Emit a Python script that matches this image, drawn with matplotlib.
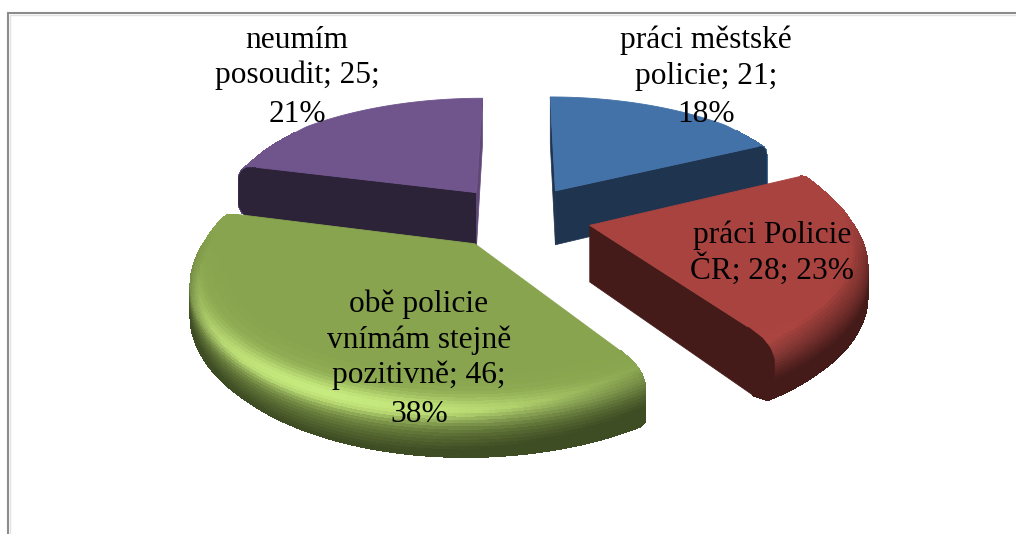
import numpy as np
import matplotlib
matplotlib.use("Agg")
import matplotlib.pyplot as plt
from matplotlib.collections import PolyCollection
from matplotlib.colors import to_rgb

values = [21, 28, 46, 25]
labels = [
    ["práci městské", "policie; 21;", "18%"],
    ["práci Policie", "ČR; 28; 23%"],
    ["obě policie", "vnímám stejně", "pozitivně; 46;", "38%"],
    ["neumím", "posoudit; 25;", "21%"],
]
colors = ["#4372A8", "#A8433F", "#88A44E", "#70558D"]
sides = ["#1F344F", "#451B19", "#3F4D24", "#2D2339"]
label_x = [706, 772, 419, 297]
label_base = [[48, 84, 122], [243, 279], [312, 348, 383, 422], [48, 83, 122]]
explode = 0.27

W, H = 1016, 534
CX, CY, R, A, D, K = 519, 217, 268, 118, 56, 0.17

fig = plt.figure(figsize=(W / 100, H / 100), dpi=100)
ax = fig.add_axes([0, 0, 1, 1])
ax.set_xlim(0, W)
ax.set_ylim(H, 0)
ax.axis("off")


def proj(x, y, z):
    s = 1 / (1 + K * y)
    return CX + R * x * s, CY - A * y * s + D * z * s


tt = np.linspace(0, 1, 31)
prof_r = np.interp(tt, [0, .10, .22, .35, .75, .88, 1], [.875, .945, .98, 1, 1, .97, .90])
prof_z = np.interp(tt, [0, .10, .22, .35, .75, .88, 1], [0, .03, .10, .22, .78, .92, 1])


def rho(r, th):
    # the rounded edge disappears towards the back of the pie
    if r == 0 or r >= 1:
        return r
    back = np.clip(np.cos(th) * 1.5, 0, 1)
    return r + back * (1 - r)


def draw_slice(t1, t2, base, side, z0):
    ex, ey = explode * np.sin((t1 + t2) / 2), explode * np.cos((t1 + t2) / 2)
    P = lambda r, th, z: proj(ex + rho(r, th) * np.sin(th), ey + rho(r, th) * np.cos(th), z)
    b, sd = np.array(to_rgb(base)), np.array(to_rgb(side))
    # rim, lower bands first; the back of the rim cannot be seen
    ths = np.linspace(t1, t2, max(int(np.degrees(t2 - t1)), 8))
    polys, cols = [], []
    for j in range(len(tt) - 2, -1, -1):
        for a, c in zip(ths[:-1], ths[1:]):
            m = (a + c) / 2
            if np.cos(m) > .6:
                continue
            polys.append([P(prof_r[j], a, prof_z[j]), P(prof_r[j], c, prof_z[j]),
                          P(prof_r[j + 1], c, prof_z[j + 1]), P(prof_r[j + 1], a, prof_z[j + 1])])
            t = (tt[j] + tt[j + 1]) / 2
            light = max(0, np.cos(m - np.radians(205))) ** 2.5
            front = np.clip(-np.cos(m) * 2.5 + .4, 0, 1)
            high = light * np.exp(-((t - .3) / .15) ** 2)
            dark = np.clip((t - .08 - .32 * light) / (.45 - .1 * light), 0, 1) ** .8
            col = b * (1 - dark) + sd * dark
            col = np.minimum(col * (1 + .26 * high) + .11 * high, 1)
            cols.append(b * (1 - front) + col * front)
    ax.add_collection(PolyCollection(polys, facecolors=cols, edgecolors=cols, linewidths=.8,
                                     antialiaseds=False, zorder=z0))
    # radial cut faces, only those that face the viewer (or lie edge-on at the top of the pie)
    for th, visible, col in ((t1, np.sin(t1) < 1e-6, side),
                             (t2, np.sin(t2) > 1e-6, side),
                             (t2, abs(np.sin(t2)) < 1e-6, tuple(b * .85))):
        if visible:
            pts = [P(0, th, 0)] + [P(r, th, z) for r, z in zip(prof_r, prof_z)] + [P(0, th, 1)]
            ax.fill(*zip(*pts), color=col, lw=.5, zorder=z0 + .1)
    # flat top
    a = np.linspace(t1, t2, 80)
    pts = [P(0, t1, 0)] + [P(prof_r[0], x, 0) for x in a]
    ax.fill(*zip(*pts), color=base, lw=.6, zorder=z0 + .2)


total = sum(values)
edges = np.cumsum([0] + values) / total * 2 * np.pi
order = sorted(range(len(values)), key=lambda i: -np.cos((edges[i] + edges[i + 1]) / 2))
for n, i in enumerate(order):
    draw_slice(edges[i], edges[i + 1], colors[i], sides[i], 2 + n)

for lines, x, bases in zip(labels, label_x, label_base):
    for line, y in zip(lines, bases):
        ax.text(x, y, line, ha="center", va="baseline", fontsize=22.6,
                family="Liberation Serif", color="black", zorder=20)

# outer frame of the chart area (top and left only visible)
ax.plot([8, 8, W], [H, 12.5, 12.5], color="#8C8C8C", lw=1.5, zorder=1, solid_joinstyle="miter")
ax.plot([10, 10, W], [H, 14.5, 14.5], color="#E2E2E2", lw=1, zorder=1, solid_joinstyle="miter")

fig.savefig("out.png", dpi=100, facecolor="white")
